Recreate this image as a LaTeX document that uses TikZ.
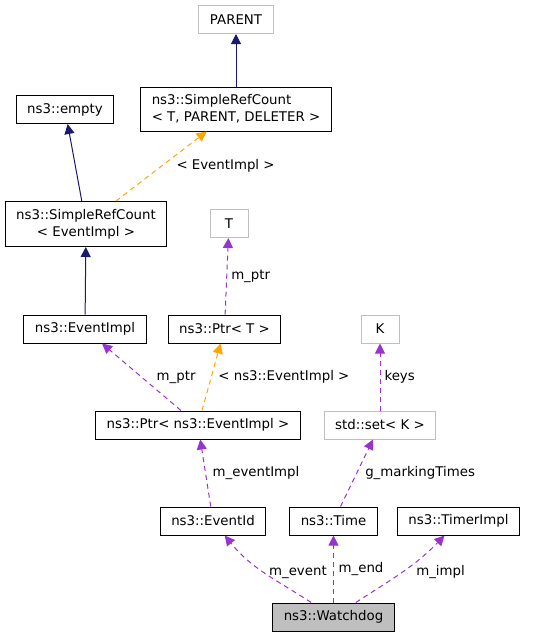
\documentclass[tikz,border=0pt]{standalone}
\usepackage{fontspec}
\setmainfont{DejaVu Sans}
\usetikzlibrary{arrows.meta, positioning}
\definecolor{inhblue}{HTML}{191970}
\definecolor{tmplorange}{HTML}{FFA500}
\definecolor{usepurple}{HTML}{9A32CD}
\definecolor{extgray}{HTML}{BFBFBF}
\tikzset{->, >={Triangle[length=7.5pt,width=7.5pt]},
  cls/.style={draw=black, rectangle, inner xsep=8.3pt, inner ysep=2pt,
    minimum height=21pt, minimum width=28.5pt},
  extcls/.style={cls, draw=extgray},
  focus/.style={cls, fill=extgray},
  inherit/.style={draw=inhblue},
  templ/.style={draw=tmplorange, dash pattern=on 3.75pt off 3pt},
  usage/.style={draw=usepurple, dash pattern=on 3.75pt off 3pt},
  lbl/.style={inner sep=0pt, anchor=west}}

\begin{document}
\begin{tikzpicture}[x=0.75pt,y=0.75pt,line width=0.75pt,
    font=\fontsize{10}{12.75}\selectfont]
  \useasboundingbox (0,0) rectangle (533,-637);

  \node[extcls] (parent) at (236,-19.5) {PARENT};
  \node[cls, align=left, minimum height=33pt] (srcT) at (236,-109)
    {ns3::SimpleRefCount\\< T, PARENT, DELETER >};
  \node[cls] (empty) at (65,-109.5) {ns3::empty};
  \node[cls, align=center, minimum height=33.75pt] (srcE) at (86,-224)
    {ns3::SimpleRefCount\\< EventImpl >};
  \node[extcls] (T) at (229,-223.5) {T};
  \node[cls] (eimpl) at (85,-329) {ns3::EventImpl};
  \node[cls] (ptrT) at (224.5,-329) {ns3::Ptr< T >};
  \node[extcls] (K) at (380,-329) {K};
  \node[cls] (ptrE) at (198,-425) {ns3::Ptr< ns3::EventImpl >};
  \node[extcls] (kset) at (380,-425) {std::set< K >};
  \node[cls] (eid) at (213,-521) {ns3::EventId};
  \node[cls] (ntime) at (333.5,-521) {ns3::Time};
  \node[cls] (timer) at (458.5,-521) {ns3::TimerImpl};
  \node[focus] (wd) at (333.5,-617) {ns3::Watchdog};

  % inheritance
  \draw[inherit] (srcT) -- (parent);
  \draw[inherit] (srcE) -- (empty);
  \draw[inherit] (eimpl) -- (srcE);

  % template instances
  \draw[templ] (srcE) -- node[lbl, right=11pt] {< EventImpl >} (srcT);
  \draw[templ] (ptrE) -- node[lbl, right=5pt] {< ns3::EventImpl >} (ptrT);

  % members
  \draw[usage] (ptrT) -- node[lbl, right=3pt] {m\_ptr} (T);
  \draw[usage] (ptrE) -- node[lbl, right=11pt] {m\_ptr} (eimpl);
  \draw[usage] (kset) -- node[lbl, right=3pt] {keys} (K);
  \draw[usage] (eid) -- node[lbl, right=5pt] {m\_eventImpl} (ptrE);
  \draw[usage] (ntime) -- node[lbl, right=6pt] {g\_markingTimes} (kset);
  \draw[usage] (wd) to[out=147, in=-51] node[lbl, right=3pt] {m\_event} (eid);
  \draw[usage] (wd) -- node[lbl, right=3.5pt] {m\_end} (ntime);
  \draw[usage] (wd) to[out=33, in=-134] node[lbl, right=10pt] {m\_impl} (timer);
\end{tikzpicture}
\end{document}
